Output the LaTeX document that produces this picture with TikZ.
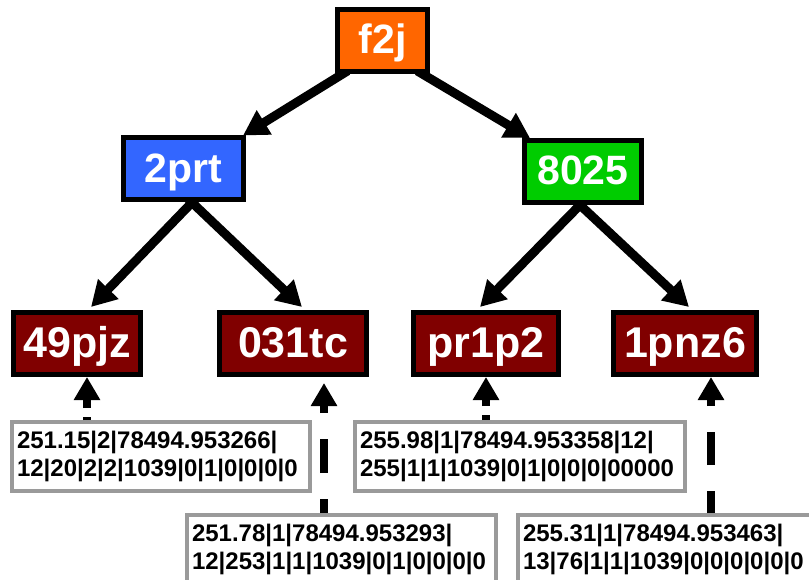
\documentclass[tikz,border=0pt]{standalone}
\usepackage{fontspec}
\setmainfont{Liberation Sans}
\usetikzlibrary{arrows.meta,calc}

\definecolor{rootorange}{HTML}{FF6600}
\definecolor{midblue}{HTML}{3366FF}
\definecolor{midgreen}{HTML}{00CC00}
\definecolor{leafred}{HTML}{800000}
\definecolor{notegray}{HTML}{9A9A9A}

\pgfdeclarelayer{edges}
\pgfsetlayers{edges,main}

\begin{document}
\begin{tikzpicture}[x=1pt,y=-1pt,
  box/.style={draw=black, line width=5pt, text=white, inner sep=0pt,
    font=\bfseries\fontsize{41}{48}\selectfont,
    text height=30pt, text depth=3pt, minimum height=62pt},
  leafbox/.style={box, fill=leafred, font=\bfseries\fontsize{43}{48}\selectfont},
  treeedge/.style={line width=9pt, shorten <=-6pt,
    -{Triangle[length=25pt,width=27pt]}},
  noteedge/.style={line width=8.5pt, -{Triangle[length=23pt,width=25pt]}},
  notebox/.style={draw=notegray, fill=white, line width=4pt, inner xsep=5pt,
    inner ysep=0pt, align=left, font=\bfseries\fontsize{24}{27.5}\selectfont,
    minimum height=69pt}
]
\clip (0,0) rectangle (809,580);

% tree nodes
\node[box, fill=rootorange, minimum width=90pt]  (f2j)   at (382.5,40.5) {f2j};
\node[box, fill=midblue,    minimum width=120pt] (2prt)  at (183.5,169)  {2prt};
\node[box, fill=midgreen,   minimum width=117pt] (8025)  at (583,171.5)  {8025};
\node[leafbox, minimum width=127pt] (49pjz) at (77,343.5)   {49pjz};
\node[leafbox, minimum width=147pt] (031tc) at (293,343.5)  {031tc};
\node[leafbox, minimum width=145pt] (pr1p2) at (486,343.5)  {pr1p2};
\node[leafbox, minimum width=143pt] (1pnz6) at (685,343.5)  {1pnz6};

% record notes
\node[notebox, text width=288pt] (N1) at (161,456.5)
  {251.15|2|78494.953266|\\12|20|2|2|1039|0|1|0|0|0|0};
\node[notebox, text width=320pt] (N3) at (520,456.5)
  {255.98|1|78494.953358|12|\\255|1|1|1039|0|1|0|0|0|00000};
\node[notebox, text width=299pt] (N2) at (341.5,549.5)
  {251.78|1|78494.953293|\\12|253|1|1|1039|0|1|0|0|0|0};
\node[notebox, text width=288pt] (N4) at (667,549.5)
  {255.31|1|78494.953463|\\13|76|1|1|1039|0|0|0|0|0|0};

% tree edges, kept beneath the boxes
\begin{pgfonlayer}{edges}
\draw[treeedge] (f2j.220) -- ([xshift=-3pt]2prt.north east);
\draw[treeedge] (f2j.320) -- ([xshift=8pt]8025.north west);
\draw[treeedge] ([xshift=8.5pt]2prt.south) -- ([xshift=14pt,yshift=3pt]49pjz.north);
\draw[treeedge] ([xshift=8.5pt]2prt.south) -- ([xshift=9pt,yshift=3pt]031tc.north);
\draw[treeedge] ([xshift=-3pt]8025.south) -- ([xshift=-6pt,yshift=3pt]pr1p2.north);
\draw[treeedge] ([xshift=-3pt]8025.south) -- ([xshift=4pt,yshift=3pt]1pnz6.north);
\end{pgfonlayer}

% note links
\coordinate (t1) at ([xshift=10pt]49pjz.south);
\coordinate (t2) at ([xshift=31pt,yshift=-6pt]031tc.south);
\coordinate (t3) at (pr1p2.south);
\coordinate (t4) at ([xshift=26pt]1pnz6.south);
\draw[noteedge, dash pattern=on 3pt off 9pt on 200pt] (N1.north -| t1) -- (t1);
\draw[noteedge, dash pattern=on 5pt off 9pt on 200pt] (N3.north -| t3) -- (t3);
\draw[noteedge, dash pattern=on 14pt off 26pt on 34pt off 26pt on 200pt] (N2.north -| t2) -- (t2);
\draw[noteedge, dash pattern=on 22pt off 26pt on 33pt off 26pt on 200pt] (N4.north -| t4) -- (t4);
\end{tikzpicture}
\end{document}
